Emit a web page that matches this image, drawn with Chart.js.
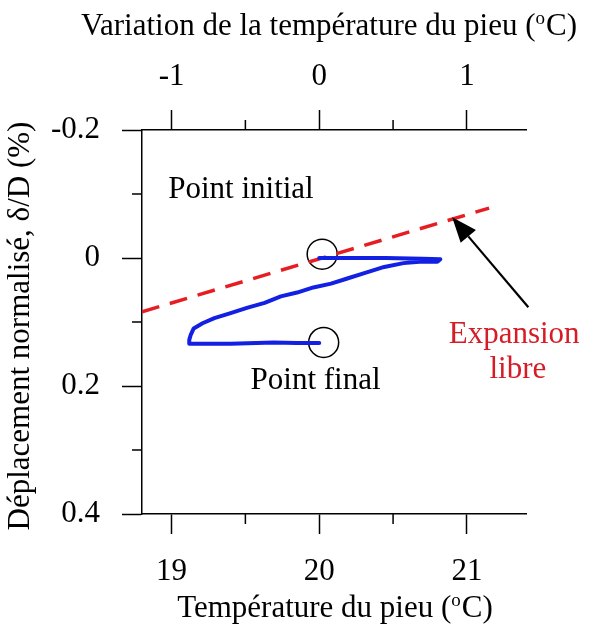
<!DOCTYPE html>
<html>
<head>
<meta charset="utf-8">
<script src="https://cdn.jsdelivr.net/npm/chart.js@4"></script>
<style>
  body { margin: 0; background: #fff; }
  #wrap { width: 593px; height: 637px; }
</style>
</head>
<body>
<div id="wrap"><canvas id="myChart" width="593" height="637"></canvas></div>
<script>
// measured pile response: temperature (°C) vs normalised displacement (%)
var curveTemp = [20.00, 20.20, 20.45, 20.70, 20.82, 20.80, 20.68, 20.57, 20.44, 20.30, 20.19, 20.08, 19.96, 19.85, 19.74, 19.63, 19.51, 19.40, 19.29, 19.21, 19.15, 19.13, 19.12, 19.12, 19.40, 19.69, 19.85, 20.00];
var curveDisp = [0.000, 0.000, 0.000, 0.001, 0.002, 0.006, 0.006, 0.008, 0.014, 0.024, 0.032, 0.040, 0.046, 0.054, 0.060, 0.070, 0.078, 0.086, 0.094, 0.102, 0.110, 0.120, 0.128, 0.134, 0.134, 0.132, 0.133, 0.133];

// free expansion line
var freeTemp = [18.8, 21.15];
var freeDisp = [0.084, -0.078];

// initial / final point markers
var markTemp = [20.02, 20.03];
var markDisp = [-0.006, 0.132];

// ticks
var xTicks = [19, 20, 21];
var xMinorTicks = [19.5, 20.5];
var topTicks = [-1, 0, 1];
var topMinorTicks = [-0.5, 0.5];
var yTicks = [-0.2, 0, 0.2, 0.4];
var yMinorTicks = [-0.1, 0.1, 0.3];

var serif = '"Liberation Serif", "Times New Roman", serif';
var tickFont = { family: serif, size: 31, lineHeight: 1.2 };

function toPoints(xs, ys) {
  return xs.map(function (x, i) { return { x: x, y: ys[i] }; });
}

function setTicks(values) {
  return function (scale) {
    scale.ticks = values.map(function (v) { return { value: v }; });
  };
}

function titleWithDegree(ctx, before, after, cx, baseY) {
  ctx.save();
  ctx.fillStyle = "#000";
  ctx.textBaseline = "alphabetic";
  ctx.textAlign = "left";
  ctx.font = "31px " + serif;
  var w1 = ctx.measureText(before).width;
  var w3 = ctx.measureText(after).width;
  ctx.font = "19px " + serif;
  var w2 = ctx.measureText("o").width + 1;
  var x = cx - (w1 + w2 + w3) / 2;
  ctx.font = "31px " + serif;
  ctx.fillText(before, x, baseY);
  ctx.font = "19px " + serif;
  ctx.fillText("o", x + w1, baseY - 11);
  ctx.font = "31px " + serif;
  ctx.fillText(after, x + w1 + w2, baseY);
  ctx.restore();
}

var decorations = {
  id: "decorations",
  afterDraw: function (chart) {
    var ctx = chart.ctx;
    var sx = chart.scales.x, sy = chart.scales.y, st = chart.scales.x2;
    var area = chart.chartArea;

    // minor ticks
    ctx.save();
    ctx.strokeStyle = "#000";
    ctx.lineWidth = 1.5;
    ctx.beginPath();
    xMinorTicks.forEach(function (v) {
      var p = sx.getPixelForValue(v);
      ctx.moveTo(p, area.bottom); ctx.lineTo(p, area.bottom + 10);
    });
    topMinorTicks.forEach(function (v) {
      var p = st.getPixelForValue(v);
      ctx.moveTo(p, area.top); ctx.lineTo(p, area.top - 10);
    });
    yMinorTicks.forEach(function (v) {
      var p = sy.getPixelForValue(v);
      ctx.moveTo(area.left, p); ctx.lineTo(area.left - 10, p);
    });
    ctx.stroke();
    ctx.restore();

    // axis titles
    titleWithDegree(ctx, "Variation de la température du pieu (", "C)", 329, 35);
    titleWithDegree(ctx, "Température du pieu (", "C)", 335, 617);
    ctx.save();
    ctx.translate(29, 326);
    ctx.rotate(-Math.PI / 2);
    ctx.fillStyle = "#000";
    ctx.font = "31px " + serif;
    ctx.textAlign = "center";
    ctx.textBaseline = "alphabetic";
    ctx.fillText("Déplacement normalisé, δ/D (%)", 0, 0);
    ctx.restore();

    // annotations
    ctx.save();
    ctx.font = "31px " + serif;
    ctx.textAlign = "center";
    ctx.textBaseline = "alphabetic";
    ctx.fillStyle = "#000";
    ctx.fillText("Point initial", sx.getPixelForValue(19.47), sy.getPixelForValue(-0.093));
    ctx.fillText("Point final", sx.getPixelForValue(19.975), sy.getPixelForValue(0.204));
    ctx.fillStyle = "rgb(214, 28, 38)";
    ctx.fillText("Expansion", sx.getPixelForValue(21.32), sy.getPixelForValue(0.133));
    ctx.fillText("libre", sx.getPixelForValue(21.345), sy.getPixelForValue(0.188));

    // arrow pointing at the free expansion line
    var x0 = sx.getPixelForValue(21.416), y0 = sy.getPixelForValue(0.077);
    var x1 = sx.getPixelForValue(20.9), y1 = sy.getPixelForValue(-0.0636);
    var ang = Math.atan2(y1 - y0, x1 - x0);
    var headLen = 25, headHalf = 10;
    var bx = x1 - headLen * Math.cos(ang), by = y1 - headLen * Math.sin(ang);
    ctx.strokeStyle = "#000";
    ctx.fillStyle = "#000";
    ctx.lineWidth = 2.2;
    ctx.beginPath();
    ctx.moveTo(x0, y0);
    ctx.lineTo(bx, by);
    ctx.stroke();
    ctx.beginPath();
    ctx.moveTo(x1, y1);
    ctx.lineTo(bx + headHalf * Math.sin(ang), by - headHalf * Math.cos(ang));
    ctx.lineTo(bx - headHalf * Math.sin(ang), by + headHalf * Math.cos(ang));
    ctx.closePath();
    ctx.fill();
    ctx.restore();
  }
};

var ctx = document.getElementById("myChart").getContext("2d");
var chart = new Chart(ctx, {
  type: "scatter",
  data: {
    datasets: [
      {
        label: "Mesure",
        data: toPoints(curveTemp, curveDisp),
        showLine: true,
        borderColor: "rgb(18, 32, 228)",
        borderWidth: 4,
        borderJoinStyle: "round",
        borderCapStyle: "round",
        pointRadius: 0,
        tension: 0
      },
      {
        label: "Expansion libre",
        data: toPoints(freeTemp, freeDisp),
        showLine: true,
        borderColor: "rgb(230, 30, 35)",
        borderWidth: 3.5,
        borderDash: [18, 11],
        pointRadius: 0
      },
      {
        label: "Points",
        data: toPoints(markTemp, markDisp),
        showLine: false,
        pointRadius: 15,
        pointBorderWidth: 1.5,
        pointBorderColor: "#000",
        pointBackgroundColor: "rgba(0,0,0,0)",
        clip: false
      }
    ]
  },
  options: {
    responsive: false,
    animation: false,
    layout: { padding: { left: 0, top: 0, bottom: 0, right: 67 } },
    plugins: { legend: { display: false }, tooltip: { enabled: false } },
    scales: {
      x: {
        type: "linear",
        position: "bottom",
        min: 18.8,
        max: 21.4,
        afterBuildTicks: setTicks(xTicks),
        afterFit: function (s) { s.height = 123; },
        border: { display: true, color: "#000", width: 1.5 },
        grid: { drawOnChartArea: false, drawTicks: true, tickLength: 20, tickColor: "#000", tickWidth: 1.5 },
        ticks: { font: tickFont, color: "#000", padding: 19, maxRotation: 0, callback: function (v) { return String(v); } }
      },
      x2: {
        type: "linear",
        position: "top",
        min: -1.2,
        max: 1.4,
        afterBuildTicks: setTicks(topTicks),
        afterFit: function (s) { s.height = 130; },
        border: { display: true, color: "#000", width: 1.5 },
        grid: { drawOnChartArea: false, drawTicks: true, tickLength: 20, tickColor: "#000", tickWidth: 1.5 },
        ticks: { font: tickFont, color: "#000", padding: 15, maxRotation: 0, callback: function (v) { return String(v); } }
      },
      y: {
        type: "linear",
        position: "left",
        reverse: true,
        min: -0.2,
        max: 0.4,
        afterBuildTicks: setTicks(yTicks),
        afterFit: function (s) { s.width = 142; },
        border: { display: true, color: "#000", width: 1.5 },
        grid: { drawOnChartArea: false, drawTicks: true, tickLength: 20, tickColor: "#000", tickWidth: 1.5 },
        ticks: { font: tickFont, color: "#000", padding: 22, callback: function (v) { return String(v); } }
      }
    }
  },
  plugins: [decorations]
});
</script>
</body>
</html>
